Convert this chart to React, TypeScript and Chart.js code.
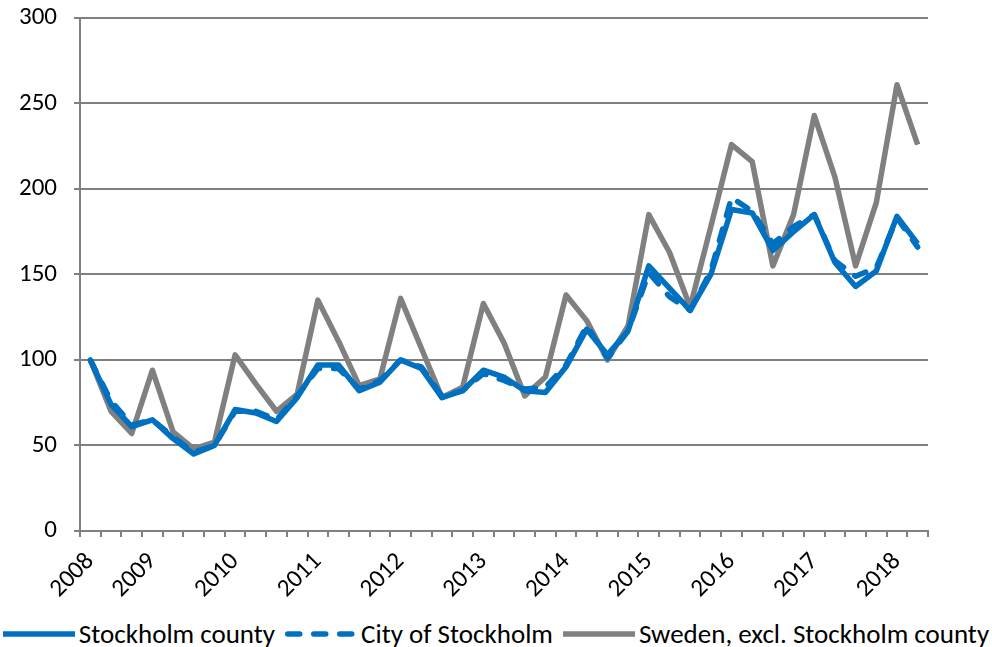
import React, { useEffect, useRef } from "react";
import { Chart, registerables } from "chart.js";

Chart.register(...registerables);

const yearLabelAt: Record<number, string> = {
  0: "2008", 3: "2009", 7: "2010", 11: "2011", 15: "2012", 19: "2013",
  23: "2014", 27: "2015", 31: "2016", 35: "2017", 39: "2018",
};
const pointCount = 41;
const categories: string[] = Array.from({ length: pointCount }, (_, i) => yearLabelAt[i] ?? "");

const stockholmCounty = [
  100, 74, 61, 65, 54, 45, 50, 71, 69, 64, 78, 97, 97, 82, 87, 100, 95, 78, 82, 94,
  90, 82, 81, 96, 118, 103, 117, 155, 142, 129, 150, 188, 186, 164, 175, 185, 157, 143, 152, 184, 168,
];
const cityOfStockholm = [
  100, 76, 62, 65, 55, 46, 50, 70, 70, 65, 79, 95, 95, 83, 88, 100, 96, 79, 82, 92,
  88, 83, 84, 97, 120, 101, 117, 151, 137, 129, 152, 195, 187, 168, 178, 185, 158, 149, 154, 183, 166,
];
const swedenExclStockholm = [
  100, 70, 57, 94, 58, 48, 52, 103, 86, 70, 80, 135, 111, 85, 89, 136, 107, 78, 84, 133,
  110, 79, 90, 138, 123, 100, 120, 185, 163, 131, 178, 226, 216, 155, 185, 243, 207, 155, 192, 261, 226,
];
const yTicks = [0, 50, 100, 150, 200, 250, 300];

const BLUE = "#0070C0";
const GRAY = "#808080";
const FONT = "Carlito, Lato, 'Liberation Sans', sans-serif";
const TICK_SIZE = 25;
const LEGEND_SIZE = 27;
const LINE_WIDTH = 5.5;
const CITY_DASH = [12, 14];

const seriesMeta = [
  { label: "Stockholm county", data: stockholmCounty, color: BLUE, dash: [] as number[] },
  { label: "City of Stockholm", data: cityOfStockholm, color: BLUE, dash: CITY_DASH },
  { label: "Sweden, excl. Stockholm county", data: swedenExclStockholm, color: GRAY, dash: [] as number[] },
];

export default function App() {
  const ref = useRef<HTMLCanvasElement | null>(null);
  useEffect(() => {
    document.body.style.margin = "0";
    if (!ref.current) return;
    const chart = new Chart(ref.current, {
      type: "line",
      data: {
        labels: categories,
        datasets: seriesMeta.map((s) => ({
          label: s.label,
          data: s.data,
          borderColor: s.color,
          backgroundColor: s.color,
          borderWidth: LINE_WIDTH,
          borderDash: s.dash,
          borderCapStyle: s.dash.length ? "round" : "butt",
          borderJoinStyle: "round",
          pointRadius: 0,
          tension: 0,
        })) as any,
      },
      options: {
        animation: false,
        responsive: true,
        maintainAspectRatio: false,
        layout: { padding: { left: 2, right: 64, top: 18, bottom: 0 } },
        plugins: {
          tooltip: { enabled: false },
          legend: { display: false },
        },
        scales: {
          x: {
            type: "category",
            offset: true,
            afterFit: (scale: any) => {
              scale.paddingLeft = 0;
              scale.paddingRight = 0;
            },
            grid: {
              display: true,
              drawOnChartArea: false,
              drawTicks: true,
              tickLength: 6,
              color: GRAY,
              lineWidth: 2,
              offset: true,
            },
            border: { display: true, color: GRAY, width: 2 },
            ticks: {
              autoSkip: false,
              maxRotation: 45,
              minRotation: 45,
              color: "#000",
              padding: 10,
              font: { family: FONT, size: TICK_SIZE },
            },
          },
          y: {
            min: 0,
            max: 300,
            afterFit: (scale: any) => {
              scale.paddingTop = 0;
              scale.paddingBottom = 0;
            },
            afterBuildTicks: (axis: any) => {
              axis.ticks = yTicks.map((v) => ({ value: v }));
            },
            grid: {
              color: GRAY,
              lineWidth: 2,
              tickLength: 6,
              drawTicks: true,
            },
            border: { display: true, color: GRAY, width: 2 },
            ticks: {
              color: "#000",
              padding: 17,
              font: { family: FONT, size: TICK_SIZE, lineHeight: 1 },
            },
          },
        },
      },
    });
    return () => chart.destroy();
  }, []);
  return (
    <div style={{ position: "absolute", left: 0, top: 0, width: 992, height: 647 }}>
      <div style={{ position: "absolute", left: 0, top: 0, width: 992, height: 614 }}>
        <canvas ref={ref} />
      </div>
      <div
        style={{
          position: "absolute",
          left: 0,
          top: 618,
          width: 992,
          height: 32,
          display: "flex",
          justifyContent: "center",
          alignItems: "center",
          fontFamily: FONT,
          fontSize: LEGEND_SIZE,
          color: "#000",
          whiteSpace: "nowrap",
        }}
      >
        {seriesMeta.map((s, i) => (
          <span
            key={s.label}
            style={{ display: "inline-flex", alignItems: "center", marginRight: i < seriesMeta.length - 1 ? 10 : 0 }}
          >
            <svg width={72} height={10} style={{ marginRight: 4 }}>
              <line
                x1={s.dash.length ? 2.75 : 0}
                y1={5}
                x2={s.dash.length ? 69.25 : 72}
                y2={5}
                stroke={s.color}
                strokeWidth={LINE_WIDTH}
                strokeDasharray={s.dash.length ? s.dash.join(" ") : undefined}
                strokeLinecap={s.dash.length ? "round" : "butt"}
              />
            </svg>
            <span style={{ lineHeight: "32px" }}>{s.label}</span>
          </span>
        ))}
      </div>
    </div>
  );
}
